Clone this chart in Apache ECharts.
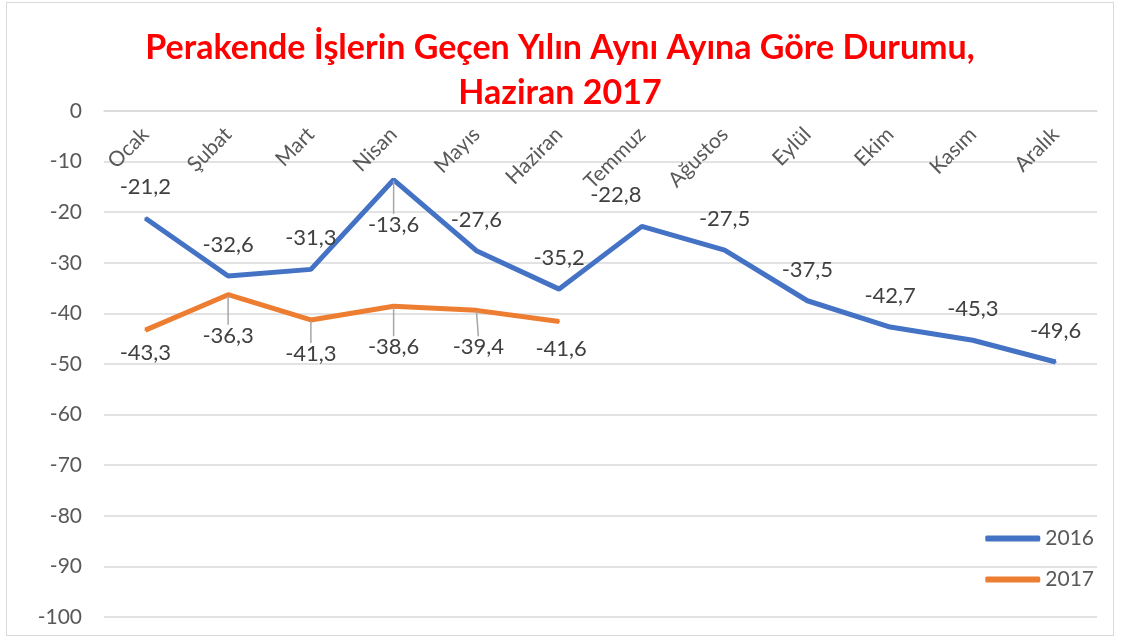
<!DOCTYPE html>
<html>
<head>
<meta charset="utf-8">
<script src="https://cdn.jsdelivr.net/npm/echarts@6/dist/echarts.min.js"></script>
<style>
html, body { margin: 0; padding: 0; background: #fff; }
#chart {
    position: absolute;
    left: 6px; top: 2px;
    width: 1108px; height: 634px;
    border: 1px solid #d9d9d9;
    box-sizing: border-box;
}
</style>
</head>
<body>
<div id="chart"></div>
<script>
const months = ['Ocak', 'Şubat', 'Mart', 'Nisan', 'Mayıs', 'Haziran', 'Temmuz', 'Ağustos', 'Eylül', 'Ekim', 'Kasım', 'Aralık']
const values2016 = [-21.2, -32.6, -31.3, -13.6, -27.6, -35.2, -22.8, -27.5, -37.5, -42.7, -45.3, -49.6]
const values2017 = [-43.3, -36.3, -41.3, -38.6, -39.4, -41.6]

// label nudges, Excel-style (index -> [dx, dy])
const nudge2016 = { 3: [0, 76], 6: [-26, 0] }
const nudge2017 = { 1: [0, 18], 2: [0, 11], 3: [0, 18], 4: [2, 14], 5: [2, 4] }

const font = 'Lato, "Open Sans", sans-serif'
const grey = '#595959'

const chart = echarts.init(document.getElementById('chart'))

function toData(values, nudges) {
    return values.map((v, i) => ({
        value: v,
        labelLine: { show: nudges[i] !== undefined && (nudges[i][1] > 8) }
    }))
}

function makeLayout(nudges) {
    return (p) => {
        const n = nudges[p.dataIndex]
        return n ? { dx: n[0], dy: n[1] } : {}
    }
}

const fmt = (p) => String(p.value).replace('.', ',')

chart.setOption({
    animation: false,
    title: {
        text: 'Perakende İşlerin Geçen Yılın Aynı Ayına Göre Durumu,\nHaziran 2017',
        left: 'center',
        top: 18,
        textStyle: {
            color: '#ff0000',
            fontFamily: font,
            fontWeight: 'bold',
            fontSize: 34,
            lineHeight: 45
        }
    },
    legend: {
        orient: 'vertical',
        right: 14,
        top: 520,
        itemGap: 20,
        itemWidth: 55,
        itemHeight: 6,
        icon: 'roundRect',
        textStyle: { color: grey, fontFamily: font, fontSize: 21 },
        data: ['2016', '2017']
    },
    grid: { left: 97, right: 16, top: 108, bottom: 18 },
    xAxis: {
        type: 'category',
        position: 'top',
        data: months,
        axisLine: { show: true, lineStyle: { color: '#d9d9d9', width: 1.5 } },
        axisTick: { show: false },
        axisLabel: {
            inside: true,
            rotate: 45,
            margin: 20,
            color: grey,
            fontFamily: font,
            fontSize: 21
        }
    },
    yAxis: {
        type: 'value',
        min: -100,
        max: 0,
        interval: 10,
        axisLine: { show: false },
        axisTick: { show: false },
        axisLabel: { color: grey, fontFamily: font, fontSize: 21, margin: 22 },
        splitLine: { lineStyle: { color: '#d9d9d9', width: 1.5 } }
    },
    series: [
        {
            name: '2016',
            type: 'line',
            data: toData(values2016, nudge2016),
            symbol: 'circle',
            symbolSize: 2,
            color: '#4472c4',
            lineStyle: { width: 5, color: '#4472c4' },
            label: {
                show: true,
                position: 'top',
                distance: 19,
                formatter: fmt,
                color: '#404040',
                fontFamily: font,
                fontSize: 22
            },
            labelLine: { lineStyle: { color: '#a6a6a6', width: 1.5 } },
            labelLayout: makeLayout(nudge2016)
        },
        {
            name: '2017',
            type: 'line',
            data: toData(values2017, nudge2017),
            symbol: 'circle',
            symbolSize: 2,
            color: '#ed7d31',
            lineStyle: { width: 5, color: '#ed7d31' },
            label: {
                show: true,
                position: 'bottom',
                distance: 11,
                formatter: fmt,
                color: '#404040',
                fontFamily: font,
                fontSize: 22
            },
            labelLine: { lineStyle: { color: '#a6a6a6', width: 1.5 } },
            labelLayout: makeLayout(nudge2017)
        }
    ]
})
</script>
</body>
</html>
